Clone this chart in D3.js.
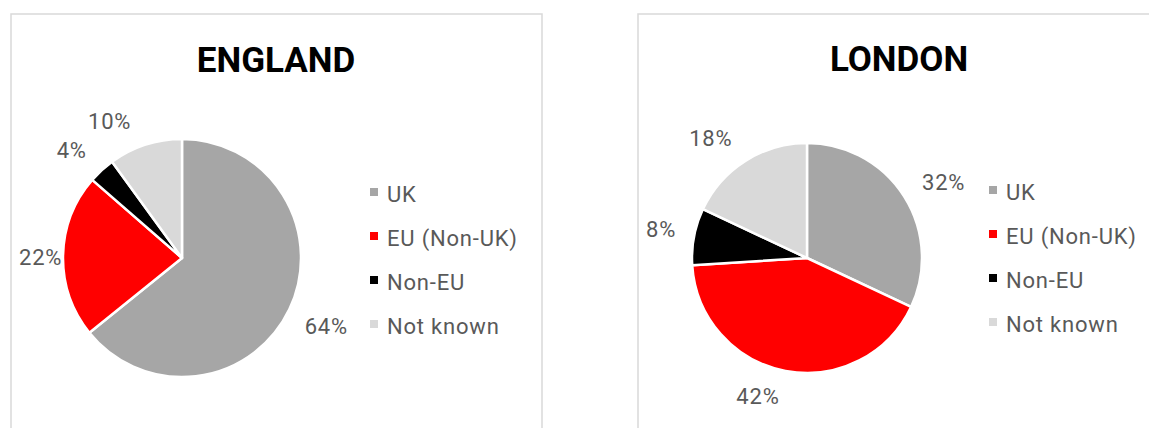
<!DOCTYPE html>
<html>
<head>
<meta charset="utf-8">
<script src="https://cdn.jsdelivr.net/npm/d3@7"></script>
<style>
  html, body { margin: 0; padding: 0; background: #fff; }
  svg { display: block; }
</style>
</head>
<body>
<svg id="chart" width="1149" height="428"></svg>
<script>
// ---- DATA ----
const categories = ["UK", "EU (Non-UK)", "Non-EU", "Not known"];
const titles = ["ENGLAND", "LONDON"];
const englandValues = [64.2, 22.2, 3.6, 10.0];
const londonValues = [32, 42, 8, 18];
const englandLabels = ["64%", "22%", "4%", "10%"];
const londonLabels = ["32%", "42%", "8%", "18%"];
const colors = ["#a6a6a6", "#ff0000", "#000000", "#d9d9d9"];

// ---- LAYOUT (positions only) ----
const panels = [
  { x: 11, y: 14, w: 531, cx: 182, cy: 258, r: 119, titleX: 276, titleY: 72, legX: 370, legY: 202, nudge: [0, -1, -3.5, -10] },
  { x: 638, y: 14, w: 531, cx: 807, cy: 258, r: 115, titleX: 899, titleY: 71, legX: 989, legY: 200, nudge: [3.7, 8.6, 0, -6.6] }
];
const series = [englandValues, londonValues];
const labelSets = [englandLabels, londonLabels];

const svg = d3.select("#chart");
const color = d3.scaleOrdinal().domain(categories).range(colors);
const pie = d3.pie().sort(null).value(d => d.v);
const textColor = "#595959";
const fontFam = "Roboto, 'DejaVu Sans', sans-serif";

panels.forEach((p, i) => {
  const g = svg.append("g");
  g.append("rect")
    .attr("x", p.x).attr("y", p.y).attr("width", p.w).attr("height", 440)
    .attr("fill", "#fff").attr("stroke", "#d9d9d9").attr("stroke-width", 1.5);

  g.append("text")
    .attr("x", p.titleX).attr("y", p.titleY)
    .attr("text-anchor", "middle")
    .attr("font-family", fontFam).attr("font-weight", 700).attr("font-size", 35)
    .attr("fill", "#000")
    .text(titles[i]);

  const data = categories.map((c, k) => ({ c, v: series[i][k], label: labelSets[i][k] }));
  const arcs = pie(data);
  const arc = d3.arc().innerRadius(0).outerRadius(p.r);

  const pg = g.append("g").attr("transform", `translate(${p.cx},${p.cy})`);
  pg.selectAll("path").data(arcs).join("path")
    .attr("d", arc)
    .attr("fill", d => color(d.data.c))
    .attr("stroke", "#fff").attr("stroke-width", 2.5).attr("stroke-linejoin", "round");

  // labels: outside end, box edge touches r+gap along mid angle
  const gap = 18, fs = 22, capH = 16;
  arcs.forEach((a, k) => {
    const t = pg.append("text")
      .attr("font-family", fontFam).attr("font-size", fs)
      .attr("letter-spacing", "0.8px")
      .attr("fill", textColor)
      .attr("text-anchor", "middle")
      .text(a.data.label);
    const w = t.node().getComputedTextLength();
    const ang = (a.startAngle + a.endAngle) / 2 + p.nudge[k] * Math.PI / 180;
    const ux = Math.sin(ang), uy = -Math.cos(ang);
    const d = p.r + gap + Math.abs(ux) * w / 2 + Math.abs(uy) * capH / 2;
    let cx = ux * d, cy = uy * d;
    // clamp inside panel (8px margin)
    const minX = p.x + 8 - p.cx + w / 2;
    if (cx < minX) cx = minX;
    t.attr("x", cx).attr("y", cy + capH / 2 - 1);
  });

  // legend
  const lg = g.append("g");
  categories.forEach((c, k) => {
    const y = p.legY + k * 44;
    lg.append("rect")
      .attr("x", p.legX).attr("y", y - 14).attr("width", 8).attr("height", 8)
      .attr("fill", color(c));
    lg.append("text")
      .attr("x", p.legX + 17).attr("y", y)
      .attr("font-family", fontFam).attr("font-size", 22)
      .attr("letter-spacing", "0.8px")
      .attr("fill", textColor)
      .text(c);
  });
});
</script>
</body>
</html>
